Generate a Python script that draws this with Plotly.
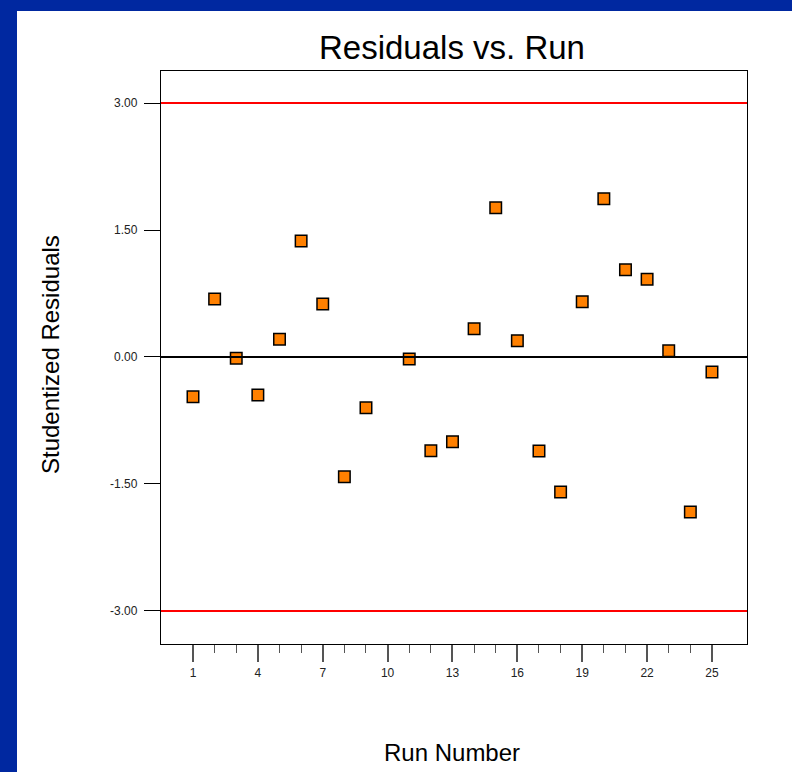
import plotly.graph_objects as go

runs = list(range(1, 26))
residuals = [-0.47, 0.685, -0.015, -0.45, 0.21, 1.37, 0.626, -1.414, -0.60, None,
             -0.024, -1.107, -1.00, 0.334, 1.763, 0.193, -1.11, -1.594, 0.653, 1.87,
             1.031, 0.918, 0.074, -1.831, -0.177]
limits = [3.0, -3.0]
ytick_vals = [3.0, 1.5, 0.0, -1.5, -3.0]
ytick_text = ["3.00", "1.50", "0.00", "-1.50", "-3.00"]
xtick_vals = [1, 4, 7, 10, 13, 16, 19, 22, 25]
xminor_vals = list(range(1, 26))

W, H = 792, 772
L, R, T, B = 161, 45, 71, 128
pw, ph = W - L - R, H - T - B

def px(x):
    return (x - L) / pw

def py(y):
    return (H - B - y) / ph

fig = go.Figure()
fig.add_trace(go.Scatter(
    x=runs, y=residuals, mode="markers",
    marker=dict(symbol="square", size=11.5, color="#FF8000",
                line=dict(color="black", width=1.5)),
    showlegend=False, hoverinfo="x+y"))

shapes = [
    dict(type="rect", xref="paper", yref="paper", x0=px(17), x1=px(W + 5),
         y0=py(H + 5), y1=py(11), fillcolor="white", line=dict(width=0), layer="below"),
]
for lim in limits:
    shapes.append(dict(type="line", xref="paper", yref="y", x0=0, x1=1, y0=lim, y1=lim,
                       line=dict(color="#FF0000", width=2)))
shapes.append(dict(type="line", xref="paper", yref="y", x0=0, x1=1, y0=0, y1=0,
                   line=dict(color="black", width=2)))

font = "Liberation Sans, Arial, sans-serif"
fig.update_layout(
    width=W, height=H,
    margin=dict(l=L, r=R, t=T, b=B),
    paper_bgcolor="#0028A0",
    plot_bgcolor="white",
    shapes=shapes,
    font=dict(family=font, color="black"),
    xaxis=dict(range=[-0.48, 26.62], showgrid=False, zeroline=False,
               showline=True, linecolor="black", linewidth=1.3, mirror=True,
               tickmode="array", tickvals=xtick_vals,
               ticks="outside", ticklen=17, tickwidth=1.5, tickcolor="#555555",
               tickfont=dict(size=12, family=font, color="#222222"),
               minor=dict(tickmode="array", tickvals=xminor_vals, ticks="outside",
                          ticklen=8, tickwidth=1.3, tickcolor="#555555", showgrid=False)),
    yaxis=dict(range=[-3.39, 3.378], showgrid=False, zeroline=False,
               showline=True, linecolor="black", linewidth=1.3, mirror=True,
               tickmode="array", tickvals=ytick_vals, ticktext=ytick_text,
               ticks="outside", ticklen=16, tickwidth=1.2, tickcolor="black",
               ticklabelstandoff=4,
               tickfont=dict(size=12, family=font, color="#222222")),
    annotations=[
        dict(text="Residuals vs. Run", xref="paper", yref="paper", x=px(452), y=py(48),
             showarrow=False, font=dict(size=33, family=font, color="black"),
             xanchor="center", yanchor="middle"),
        dict(text="Run Number", xref="paper", yref="paper", x=px(452), y=py(752),
             showarrow=False, font=dict(size=24, family=font, color="black"),
             xanchor="center", yanchor="middle"),
        dict(text="Studentized Residuals", xref="paper", yref="paper", x=px(50), y=py(355),
             showarrow=False, textangle=-90, font=dict(size=24, family=font, color="black"),
             xanchor="center", yanchor="middle"),
    ],
)

fig.write_html("out.html")
